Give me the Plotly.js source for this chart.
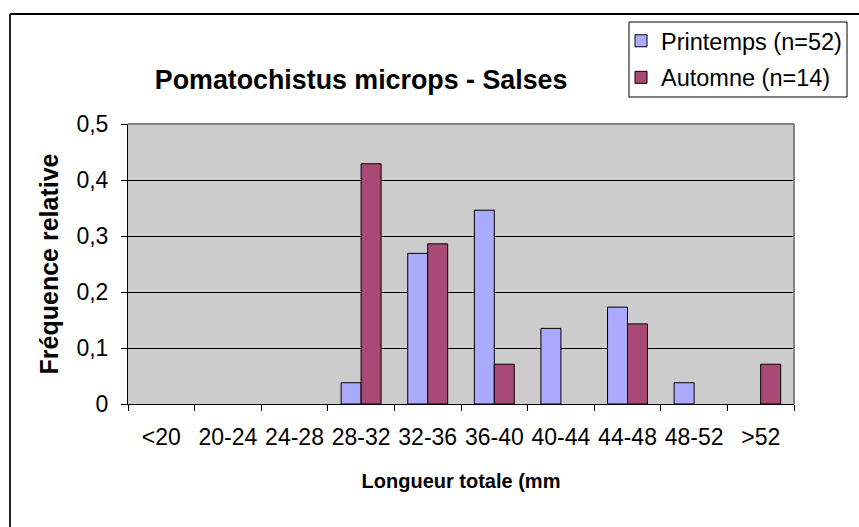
<!DOCTYPE html>
<html>
<head>
<meta charset="utf-8">
<script src="https://cdn.plot.ly/plotly-3.0.1.min.js"></script>
<style>html,body{margin:0;padding:0;background:#fff}#chart{width:859px;height:527px}</style>
</head>
<body>
<div id="chart"></div>
<script>
const categories = ["<20","20-24","24-28","28-32","32-36","36-40","40-44","44-48","48-52",">52"];
const printemps = [null, null, null, 0.038, 0.269, 0.346, 0.135, 0.173, 0.038, null];
const automne = [null, null, null, 0.429, 0.286, 0.071, null, 0.143, null, 0.071];
const seriesNames = ["Printemps (n=52)", "Automne (n=14)"];
const yTicks = [0, 0.1, 0.2, 0.3, 0.4, 0.5];
const yTickLabels = ["0", "0,1", "0,2", "0,3", "0,4", "0,5"];

const FONT = "Arial, Liberation Sans, sans-serif";

const traces = [
  {type: "bar", x: categories, y: printemps, name: seriesNames[0], legendgroup: "a",
   marker: {color: "#AAAAFF", line: {color: "#000000", width: 1}}},
  {type: "bar", x: categories, y: automne, name: seriesNames[1], legendgroup: "b",
   marker: {color: "#A94A76", line: {color: "#000000", width: 1}}}
];

const PW = 666, PH = 280;
const layout = {
  width: 859, height: 527,
  margin: {l: 128, r: 65, t: 124, b: 123, pad: 0},
  paper_bgcolor: "#ffffff",
  plot_bgcolor: "#CCCCCC",
  separators: ", ",
  barmode: "group",
  bargap: 0.4,
  bargroupgap: 0,
  font: {family: FONT, color: "#000000", size: 23},
  title: {text: "Pomatochistus microps - Salses", font: {family: FONT, size: 26.8, weight: "bold", color: "#000"},
          xref: "paper", x: 0.35, xanchor: "center", yref: "container", y: 1 - 80/527, yanchor: "middle"},
  showlegend: true,
  legend: {x: (621-128)/PW, xanchor: "left", y: (404-19)/PH, yanchor: "top", bgcolor: "rgba(0,0,0,0)",
           borderwidth: 0, font: {family: FONT, size: 23.5},
           traceorder: "grouped", tracegroupgap: 3, itemclick: false},
  xaxis: {type: "category", tickson: "boundaries", ticks: "outside", ticklen: 6, tickcolor: "#000",
          showline: true, linecolor: "#000", linewidth: 1, showgrid: false, tickangle: 0,
          tickfont: {family: FONT, size: 23}, ticklabelstandoff: 12,
          title: {text: "Longueur totale (mm", font: {family: FONT, size: 20, weight: "bold"}, standoff: 25},
          automargin: false, fixedrange: true},
  yaxis: {range: [0, 0.5], tickvals: yTicks, ticktext: yTickLabels, ticks: "outside", ticklen: 6, tickcolor: "#000",
          showline: true, linecolor: "#000", linewidth: 1, showgrid: true, gridcolor: "#000000", gridwidth: 1,
          zeroline: false, tickfont: {family: FONT, size: 23}, ticklabelstandoff: 8,
          title: {text: "Fréquence relative", font: {family: FONT, size: 25, weight: "bold"}, standoff: 10},
          automargin: false, fixedrange: true},
  shapes: [
    {type: "line", xref: "paper", yref: "paper", x0: 0, x1: 1, y0: 1, y1: 1, line: {color: "#808080", width: 2}},
    {type: "line", xref: "paper", yref: "paper", x0: 1, x1: 1, y0: 0, y1: 1, line: {color: "#808080", width: 2}},
    {type: "line", xref: "paper", yref: "paper", x0: -118/PW, x1: 1.2, y0: 390/PH, y1: 390/PH, line: {color: "#000000", width: 2}},
    {type: "line", xref: "paper", yref: "paper", x0: -118/PW, x1: -118/PW, y0: 390/PH, y1: -0.5, line: {color: "#222222", width: 2}},
    {type: "rect", xref: "paper", yref: "paper", x0: (629-128)/PW, x1: (847-128)/PW, y0: (404-22)/PH, y1: (404-97)/PH,
     line: {color: "#000000", width: 1}}
  ]
};

Plotly.newPlot("chart", traces, layout, {displayModeBar: false, staticPlot: true});
</script>
</body>
</html>
